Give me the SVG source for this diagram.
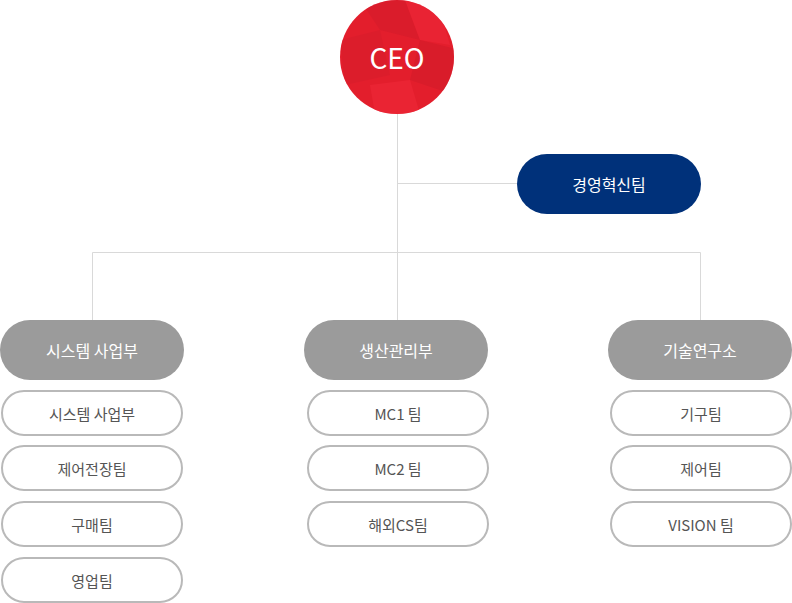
<svg xmlns="http://www.w3.org/2000/svg" width="792" height="603" viewBox="0 0 792 603">
  <style>
    .lbl { font-family: "Noto Sans CJK KR", "Noto Sans", sans-serif; text-anchor: middle; dominant-baseline: central; }
    .dept rect { fill: #9b9b9b; }
    .dept text { fill: #ffffff; font-size: 16px; }
    .team rect { fill: #ffffff; stroke: #b9b9b9; stroke-width: 2; }
    .team text { fill: #555555; font-size: 15px; }
    .conn line { stroke: #d9d9d9; stroke-width: 1; }
  </style>
  <defs>
    <clipPath id="ceoClip"><circle cx="397" cy="57" r="57"/></clipPath>
  </defs>

  <!-- connectors -->
  <g id="connectors" class="conn">
    <line x1="397.5" y1="114" x2="397.5" y2="320"/>
    <line x1="397.5" y1="183.5" x2="517" y2="183.5"/>
    <line x1="92.5" y1="252.5" x2="700.5" y2="252.5"/>
    <line x1="92.5" y1="252.5" x2="92.5" y2="320"/>
    <line x1="700.5" y1="252.5" x2="700.5" y2="320"/>
  </g>

  <!-- CEO -->
  <g id="ceo">
    <circle cx="397" cy="57" r="57" fill="#e31e2d"/>
    <g clip-path="url(#ceoClip)" opacity="0.5">
      <polygon points="360,0 405,0 420,40 380,30" fill="#d21a2a"/>
      <polygon points="405,0 440,10 450,45 420,40" fill="#f0283a"/>
      <polygon points="340,40 380,30 390,75 345,85" fill="#d61c2b"/>
      <polygon points="420,40 460,50 455,95 410,80" fill="#cf1a29"/>
      <polygon points="370,85 410,80 420,114 375,114" fill="#f22a3b"/>
    </g>
    <text class="lbl" x="397" y="57" font-size="28" fill="#ffffff" font-family="'Noto Sans', sans-serif">CEO</text>
  </g>

  <!-- management innovation team -->
  <g id="innovation">
    <rect x="517" y="154" width="184" height="60" rx="30" fill="#00317a"/>
    <text class="lbl" x="609" y="184" font-size="16" fill="#ffffff">경영혁신팀</text>
  </g>

  <!-- divisions -->
  <g id="dept-system" class="dept">
    <rect x="0" y="320" width="184" height="60" rx="30"/>
    <text class="lbl" x="92" y="350">시스템 사업부</text>
  </g>
  <g id="dept-production" class="dept">
    <rect x="304" y="320" width="184" height="60" rx="30"/>
    <text class="lbl" x="396" y="350">생산관리부</text>
  </g>
  <g id="dept-lab" class="dept">
    <rect x="608" y="320" width="184" height="60" rx="30"/>
    <text class="lbl" x="700" y="350">기술연구소</text>
  </g>

  <!-- teams: system division -->
  <g id="team-system" class="team">
    <rect x="2" y="391" width="180" height="44" rx="22"/>
    <text class="lbl" x="92" y="413">시스템 사업부</text>
  </g>
  <g id="team-control-elec" class="team">
    <rect x="2" y="446" width="180" height="44" rx="22"/>
    <text class="lbl" x="92" y="468">제어전장팀</text>
  </g>
  <g id="team-purchase" class="team">
    <rect x="2" y="502" width="180" height="44" rx="22"/>
    <text class="lbl" x="92" y="524">구매팀</text>
  </g>
  <g id="team-sales" class="team">
    <rect x="2" y="558" width="180" height="44" rx="22"/>
    <text class="lbl" x="92" y="580">영업팀</text>
  </g>

  <!-- teams: production management -->
  <g id="team-mc1" class="team">
    <rect x="308" y="391" width="180" height="44" rx="22"/>
    <text class="lbl" x="398" y="413">MC1 팀</text>
  </g>
  <g id="team-mc2" class="team">
    <rect x="308" y="446" width="180" height="44" rx="22"/>
    <text class="lbl" x="398" y="468">MC2 팀</text>
  </g>
  <g id="team-cs" class="team">
    <rect x="308" y="502" width="180" height="44" rx="22"/>
    <text class="lbl" x="398" y="524">해외CS팀</text>
  </g>

  <!-- teams: research lab -->
  <g id="team-mech" class="team">
    <rect x="611" y="391" width="180" height="44" rx="22"/>
    <text class="lbl" x="701" y="413">기구팀</text>
  </g>
  <g id="team-control" class="team">
    <rect x="611" y="446" width="180" height="44" rx="22"/>
    <text class="lbl" x="701" y="468">제어팀</text>
  </g>
  <g id="team-vision" class="team">
    <rect x="611" y="502" width="180" height="44" rx="22"/>
    <text class="lbl" x="701" y="524">VISION 팀</text>
  </g>
</svg>
